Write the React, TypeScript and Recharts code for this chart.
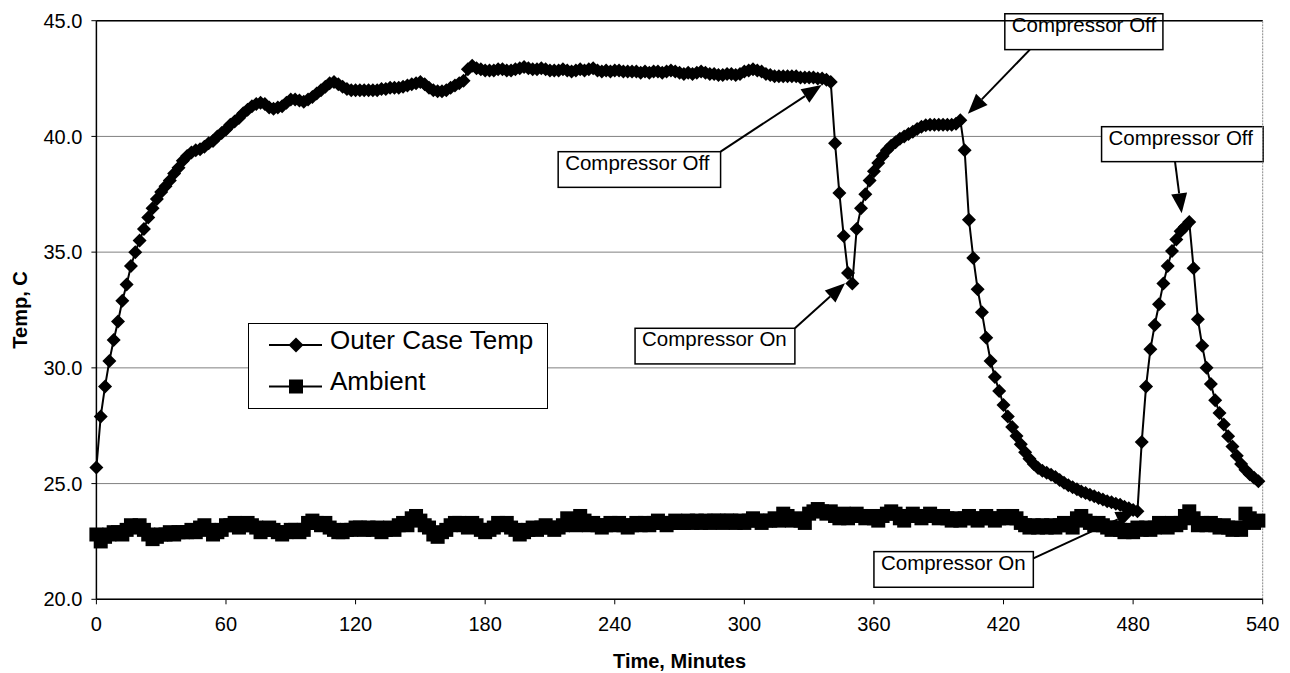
import React from "react"
import {
  LineChart,
  Line,
  XAxis,
  YAxis,
  CartesianGrid,
  ReferenceLine,
  ReferenceArea,
  Legend,
} from "recharts"

const FONT = '"Liberation Sans", Arial, Helvetica, sans-serif'

// readings every 2 minutes, one row per hour
const SAMPLE_MINUTES = 2

const outerCaseTemp = [
  25.7, 27.9, 29.2, 30.3, 31.2, 32.0, 32.9, 33.6, 34.4, 35.0, 35.5, 36.0, 36.5, 36.9, 37.3, 37.6, 37.85, 38.1, 38.4, 38.65, 38.95, 39.15, 39.3, 39.4, 39.45, 39.55, 39.7, 39.8, 40.0, 40.15,
  40.3, 40.5, 40.65, 40.8, 41.0, 41.15, 41.3, 41.4, 41.45, 41.4, 41.25, 41.2, 41.25, 41.3, 41.45, 41.6, 41.6, 41.55, 41.5, 41.6, 41.7, 41.85, 42.0, 42.15, 42.3, 42.35, 42.25, 42.15, 42.05, 42.0,
  42.0, 42.0, 42.0, 42.0, 42.0, 42.0, 42.05, 42.05, 42.1, 42.1, 42.1, 42.15, 42.2, 42.25, 42.3, 42.35, 42.25, 42.1, 42.0, 41.95, 41.95, 42.0, 42.1, 42.2, 42.3, 42.4, 42.9, 43.05, 42.95, 42.9,
  42.85, 42.85, 42.85, 42.9, 42.9, 42.85, 42.85, 42.9, 42.95, 43.0, 42.95, 42.9, 42.9, 42.95, 42.9, 42.85, 42.85, 42.85, 42.9, 42.85, 42.8, 42.85, 42.9, 42.85, 42.9, 42.95, 42.85, 42.8, 42.85, 42.8,
  42.85, 42.85, 42.8, 42.8, 42.8, 42.8, 42.75, 42.8, 42.75, 42.8, 42.8, 42.75, 42.8, 42.85, 42.8, 42.75, 42.7, 42.75, 42.7, 42.75, 42.8, 42.75, 42.7, 42.7, 42.65, 42.65, 42.7, 42.7, 42.65, 42.7,
  42.8, 42.85, 42.9, 42.85, 42.8, 42.7, 42.65, 42.6, 42.6, 42.6, 42.6, 42.6, 42.6, 42.55, 42.55, 42.55, 42.55, 42.5, 42.5, 42.45, 42.35, 39.7, 37.55, 35.7, 34.1, 33.65, 36.0, 36.9, 37.5, 38.1,
  38.5, 38.85, 39.15, 39.4, 39.6, 39.75, 39.9, 40.0, 40.1, 40.2, 40.32, 40.42, 40.48, 40.5, 40.5, 40.5, 40.5, 40.5, 40.5, 40.55, 40.7, 39.4, 36.4, 34.75, 33.4, 32.4, 31.3, 30.3, 29.6, 29.0,
  28.4, 27.9, 27.45, 27.06, 26.7, 26.35, 26.07, 25.85, 25.67, 25.55, 25.47, 25.38, 25.28, 25.16, 25.04, 24.93, 24.84, 24.75, 24.66, 24.59, 24.52, 24.45, 24.38, 24.31, 24.24, 24.19, 24.13, 24.08, 24.0, 23.93,
  23.86, 23.8, 26.8, 29.2, 30.8, 31.85, 32.75, 33.65, 34.4, 35.05, 35.55, 35.9, 36.1, 36.3, 34.3, 32.1, 30.95, 30.0, 29.3, 28.6, 28.05, 27.55, 27.05, 26.6, 26.2, 25.85, 25.6, 25.4, 25.25, 25.1,
]

const ambientTemp = [
  22.8, 22.5, 22.7, 22.8, 22.9, 22.9, 22.8, 23.0, 23.2, 23.1, 23.2, 23.0, 22.8, 22.6, 22.7, 22.8, 22.8, 22.9, 22.8, 22.9, 22.9, 22.9, 23.0, 22.9, 23.1, 23.2, 23.0, 22.8, 22.9, 23.0,
  23.2, 23.2, 23.3, 23.1, 23.2, 23.3, 23.2, 23.1, 22.9, 23.0, 23.1, 23.0, 22.9, 22.8, 22.9, 23.0, 23.0, 22.9, 23.0, 23.3, 23.4, 23.3, 23.2, 23.3, 23.1, 23.0, 22.9, 22.9, 23.0, 23.0,
  23.1, 23.1, 23.0, 23.1, 23.0, 23.1, 22.9, 23.0, 23.1, 23.0, 23.2, 23.3, 23.2, 23.5, 23.6, 23.4, 23.2, 23.1, 22.8, 22.7, 22.9, 23.0, 23.2, 23.3, 23.3, 23.2, 23.1, 23.3, 23.2, 23.0,
  22.9, 23.0, 23.1, 23.3, 23.2, 23.3, 23.1, 23.0, 22.8, 22.9, 23.0, 23.1, 23.0, 23.1, 23.2, 23.1, 23.0, 23.1, 23.2, 23.5, 23.3, 23.2, 23.6, 23.4, 23.2, 23.3, 23.2, 23.1, 23.2, 23.3,
  23.2, 23.3, 23.2, 23.1, 23.2, 23.3, 23.2, 23.3, 23.2, 23.3, 23.4, 23.3, 23.2, 23.3, 23.4, 23.3, 23.3, 23.4, 23.3, 23.4, 23.3, 23.4, 23.3, 23.4, 23.4, 23.3, 23.4, 23.4, 23.3, 23.4,
  23.3, 23.4, 23.5, 23.4, 23.3, 23.4, 23.4, 23.5, 23.4, 23.7, 23.6, 23.4, 23.5, 23.4, 23.3, 23.7, 23.8, 23.9, 23.8, 23.7, 23.8, 23.6, 23.5, 23.7, 23.5, 23.6, 23.7, 23.6, 23.5, 23.6,
  23.5, 23.4, 23.6, 23.7, 23.8, 23.7, 23.5, 23.4, 23.6, 23.7, 23.6, 23.5, 23.6, 23.7, 23.6, 23.5, 23.6, 23.5, 23.4, 23.5, 23.4, 23.5, 23.6, 23.5, 23.4, 23.5, 23.6, 23.5, 23.4, 23.5,
  23.6, 23.5, 23.6, 23.5, 23.3, 23.2, 23.1, 23.2, 23.1, 23.2, 23.1, 23.2, 23.1, 23.2, 23.3, 23.2, 23.1, 23.5, 23.6, 23.4, 23.3, 23.2, 23.3, 23.2, 23.1, 23.0, 23.1, 23.0, 22.9, 23.0,
  22.9, 23.1, 23.0, 23.1, 23.0, 23.1, 23.3, 23.2, 23.1, 23.3, 23.2, 23.3, 23.6, 23.8, 23.5, 23.2, 23.3, 23.2, 23.3, 23.2, 23.1, 23.2, 23.1, 23.0, 23.1, 23.0, 23.7, 23.5, 23.3, 23.4,
]

const xTicks = [0, 60, 120, 180, 240, 300, 360, 420, 480, 540]
const yTicks = [20, 25, 30, 35, 40, 45]
const seriesNames = ["Outer Case Temp", "Ambient"]

// callouts, in chart units (minutes, deg C)
const calloutText = ["Compressor Off", "Compressor Off", "Compressor Off", "Compressor On", "Compressor On"]
const calloutBox = [
  { x1: 213.8, x2: 289.0, y1: 39.34, y2: 37.8 },
  { x1: 420.6, x2: 493.8, y1: 45.3, y2: 43.75 },
  { x1: 465.4, x2: 540.2, y1: 40.42, y2: 38.91 },
  { x1: 249.4, x2: 323.4, y1: 31.71, y2: 30.17 },
  { x1: 360.0, x2: 433.8, y1: 22.06, y2: 20.52 },
]
const calloutArrow = [
  [{ x: 289.0, y: 39.34 }, { x: 335.8, y: 42.22 }],
  [{ x: 432.2, y: 43.75 }, { x: 403.5, y: 40.98 }],
  [{ x: 499.4, y: 38.91 }, { x: 502.5, y: 36.68 }],
  [{ x: 323.4, y: 31.71 }, { x: 346.6, y: 33.66 }],
  [{ x: 433.8, y: 21.77 }, { x: 481.3, y: 23.82 }],
]

const data = outerCaseTemp.map((v, i) => ({
  t: i * SAMPLE_MINUTES,
  outer: v,
  ambient: ambientTemp[i],
}))

const DIAMOND_R = 7
const SQUARE_HALF = 7

const Diamond = ({ cx, cy, index, half = DIAMOND_R }) => {
  if (cx == null || cy == null) return null
  return (
    <polygon
      key={`d-${index}`}
      points={`${cx},${cy - half} ${cx + half},${cy} ${cx},${cy + half} ${cx - half},${cy}`}
      fill="#000"
    />
  )
}

const Square = ({ cx, cy, index, half = SQUARE_HALF }) => {
  if (cx == null || cy == null) return null
  return <rect key={`s-${index}`} x={cx - half} y={cy - half} width={half * 2} height={half * 2} fill="#000" />
}

const Arrow = ({ x1, y1, x2, y2 }) => {
  const len = Math.hypot(x2 - x1, y2 - y1) || 1
  const ux = (x2 - x1) / len
  const uy = (y2 - y1) / len
  const bx = x2 - ux * 20
  const by = y2 - uy * 20
  return (
    <g>
      <line x1={x1} y1={y1} x2={bx} y2={by} stroke="#000" strokeWidth={2} />
      <polygon
        points={`${x2},${y2} ${bx - uy * 8},${by + ux * 8} ${bx + uy * 8},${by - ux * 8}`}
        fill="#000"
      />
    </g>
  )
}

const CalloutBox = ({ x, y, width, height, text }) => (
  <g>
    <rect x={x} y={y} width={width} height={height} fill="#fff" stroke="#000" strokeWidth={1.5} />
    <text x={x + 7} y={y + 18} fontFamily={FONT} fontSize={20.5} fill="#000">
      {text}
    </text>
  </g>
)

const LegendBox = () => (
  <div style={{ width: 300, height: 86, border: "1px solid #000", background: "#fff", boxSizing: "border-box" }}>
    <svg width={298} height={84} style={{ display: "block" }}>
      {seriesNames.map((name, i) => {
        const y = i === 0 ? 21 : 62.5
        return (
          <g key={name}>
            <line x1={20} y1={y} x2={73} y2={y} stroke="#000" strokeWidth={2} />
            {i === 0 ? (
              <Diamond cx={47} cy={y} index={0} half={7.5} />
            ) : (
              <Square cx={47} cy={y} index={0} half={7} />
            )}
            <text x={81} y={y + 3.5} fontFamily={FONT} fontSize={26} fill="#000">
              {name}
            </text>
          </g>
        )
      })}
    </svg>
  </div>
)

export default function App() {
  const tickStyle = { fontSize: 20, fill: "#000", fontFamily: FONT }
  const titleStyle = { fontSize: 20, fontWeight: "bold", fill: "#000", fontFamily: FONT, textAnchor: "middle" }
  return (
    <div style={{ position: "absolute", left: 0, top: 0, background: "#fff" }}>
      <LineChart
        width={1290}
        height={673}
        data={data}
        margin={{ top: 20.7, right: 27.3, bottom: 0, left: 16.4 }}
      >
        <CartesianGrid vertical={false} stroke="#808080" strokeWidth={1} />
        <XAxis
          type="number"
          dataKey="t"
          domain={[0, 540]}
          ticks={xTicks}
          height={73.7}
          tick={tickStyle}
          tickSize={5}
          tickMargin={12}
          axisLine={{ stroke: "#000", strokeWidth: 1.5 }}
          tickLine={{ stroke: "#000" }}
          label={{ value: "Time, Minutes", position: "insideBottom", offset: 5, style: titleStyle }}
        />
        <YAxis
          type="number"
          domain={[20, 45]}
          ticks={yTicks}
          width={80}
          tick={tickStyle}
          tickSize={5}
          tickMargin={9}
          tickFormatter={(v) => v.toFixed(1)}
          axisLine={{ stroke: "#000", strokeWidth: 1.5 }}
          tickLine={{ stroke: "#000" }}
          label={{ value: "Temp, C", angle: -90, position: "insideLeft", offset: 4, style: titleStyle }}
        />
        <ReferenceLine y={45} stroke="#000" strokeWidth={1.5} />
        <ReferenceLine x={540} stroke="#888" strokeDasharray="2 1" />
        <ReferenceLine
          segment={calloutArrow[4]}
          ifOverflow="visible"
          shape={(p) => <Arrow {...p} />}
        />
        <Line
          dataKey="ambient"
          type="linear"
          stroke="#000"
          strokeWidth={2}
          dot={(p) => <Square cx={p.cx} cy={p.cy} index={p.index} />}
          activeDot={false}
          isAnimationActive={false}
        />
        <Line
          dataKey="outer"
          type="linear"
          stroke="#000"
          strokeWidth={2}
          dot={(p) => <Diamond cx={p.cx} cy={p.cy} index={p.index} />}
          activeDot={false}
          isAnimationActive={false}
        />
        {calloutArrow.slice(0, 4).map((seg, i) => (
          <ReferenceLine key={`a-${i}`} segment={seg} ifOverflow="visible" shape={(p) => <Arrow {...p} />} />
        ))}
        {calloutBox.map((b, i) => (
          <ReferenceArea
            key={`b-${i}`}
            {...b}
            ifOverflow="visible"
            shape={(p) => <CalloutBox {...p} text={calloutText[i]} />}
          />
        ))}
        <Legend
          layout="vertical"
          align="center"
          verticalAlign="middle"
          wrapperStyle={{ left: 248, top: 323, width: 300, height: 86 }}
          content={() => <LegendBox />}
        />
      </LineChart>
    </div>
  )
}
